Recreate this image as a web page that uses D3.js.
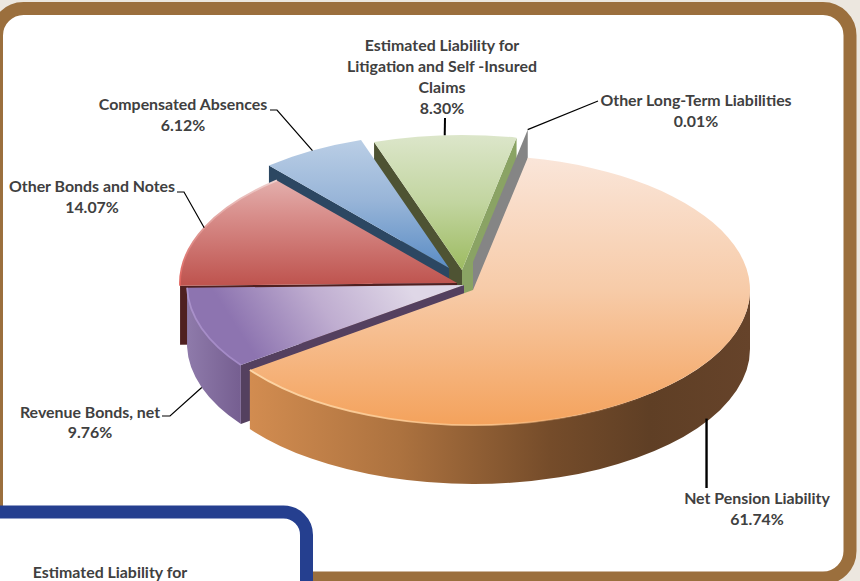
<!DOCTYPE html>
<html><head><meta charset="utf-8">
<script src="https://cdn.jsdelivr.net/npm/d3@7"></script>
<style>html,body{margin:0;padding:0;background:#ece7df;overflow:hidden}svg{display:block}
text{font-family:Lato,"Open Sans",sans-serif;font-weight:700;font-size:15.9px;fill:#404040;text-anchor:middle}</style>
</head><body><div id="c"></div>
<script>
// Data
const categories = ["Net Pension Liability","Revenue Bonds, net","Other Bonds and Notes","Compensated Absences","Estimated Liability for Litigation and Self -Insured Claims","Other Long-Term Liabilities"];
const values = [61.74,9.76,14.07,6.12,8.30,0.01];
const valueLabels = ["61.74%","9.76%","14.07%","6.12%","8.30%","0.01%"];

// Layout
const W=860,H=581,RX=277,RY=135,DEPTH=59,ROT=11.4*Math.PI/180;
const centres=[[473,290],[464,285],[457,283],[449,268],[462,270],[473,262]];
const labelLines=[["Net Pension Liability"],["Revenue Bonds, net"],["Other Bonds and Notes"],["Compensated Absences"],["Estimated Liability for","Litigation and Self -Insured","Claims"],["Other Long-Term Liabilities"]];
const labelPos=[[757,504],[90,418],[92,192],[183,110],[442,51],[696,106]];
const lineHeights=[21,20,21,21,21,21];
const elbows=[null,[[170,416],[162,416]],[[184,192],[177,192]],[[277,110],[270,110]],[[445,118]],[[598,101]]];
const leaderWidths=[2.4,1.2,1.2,1.2,2,1.2];
const leaderDepth=[1,1,0,0,0,0];
const palette=[
 {top:["#fae6da","#f7cba8","#f4a25c"],cut:"#5e3f24",rim:null},
 {top:["#dfd7e7","#bfadd0","#8d74b0"],cut:"#54405f",rim:"#7f6a9c"},
 {top:["#eecdcb","#d88e8b","#bf5550"],cut:"#4f2020",rim:"#4f2020"},
 {top:["#bed1e7","#98b5d8","#5b8dc5"],cut:"#2c4762",rim:"#3d566d"},
 {top:["#dce6ca","#c2d5a0","#9dbb61"],cut:"#4e5333",rim:"#7f9458"},
 {top:["#888","#888","#888"],cut:"#838383",rim:"#838383"}
];
const endFace=["#5e3f24","#54405f","#4f2020","#2c4762","#8aa364","#858585"];

const svg=d3.select("#c").append("svg").attr("width",W).attr("height",H);
const defs=svg.append("defs");

// Frame
svg.append("rect").attr("x",-3.5).attr("y",8.5).attr("width",853.5).attr("height",569.5).attr("rx",27)
  .attr("fill","#fff").attr("stroke","#9b6f3d").attr("stroke-width",13);

const arcs=d3.pie().sort(null).startAngle(ROT).endAngle(ROT+2*Math.PI)(values);
const ptOf=(i,a,d=0)=>[centres[i][0]+RX*Math.sin(a),centres[i][1]-RY*Math.cos(a)+d];

// Gradients
function linGrad(id,x1,y1,x2,y2,stops){
  const g=defs.append("linearGradient").attr("id",id).attr("gradientUnits","userSpaceOnUse")
    .attr("x1",x1).attr("y1",y1).attr("x2",x2).attr("y2",y2);
  stops.forEach(s=>g.append("stop").attr("offset",s[0]).attr("stop-color",s[1]).attr("stop-opacity",s[2]===undefined?1:s[2]));
}
palette.forEach((p,i)=>{
  const [cx,cy]=centres[i], st=p.top.map((c,k)=>[k/2,c]);
  if(i===1) linGrad("top1",cx-60,cy-5,cx-200,cy+85,st);
  else if(i===0) linGrad("top0",0,cy-RY,0,cy+RY,st);
  else linGrad("top"+i,0,cy-RY,0,cy,st);
});
linGrad("rim0",250,0,750,0,[[0,"#d28c50"],[.3,"#ac723f"],[.6,"#754c2a"],[.8,"#5f3f25"],[1,"#66432a"]]);
linGrad("rim1",186,0,242,0,[[0,"#8f7bab"],[1,"#755e90"]]);
linGrad("hi0",250,0,650,0,[[0,"#fdd6a6",1],[.6,"#fcc48a",.8],[1,"#f6a765",0]]);
linGrad("hi1",0,290,0,365,[[0,"#ab93cb"],[1,"#a389c6"]]);
linGrad("hi2",0,180,0,285,[[0,"#efd0ce"],[.5,"#df9692"],[1,"#e0605a"]]);

const face=(i,a)=>{const p=ptOf(i,a),c=centres[i];
  return d3.line()([c,p,[p[0],p[1]+DEPTH],[c[0],c[1]+DEPTH]])+"Z";};
const rimPath=(i,lo,hi)=>{const a=ptOf(i,lo),b=ptOf(i,hi),a2=ptOf(i,lo,DEPTH),b2=ptOf(i,hi,DEPTH),l=hi-lo>Math.PI?1:0;
  return `M${a}A${RX},${RY} 0 ${l} 1 ${b}L${b2}A${RX},${RY} 0 ${l} 0 ${a2}Z`;};
const edgePath=(i,lo,hi)=>{const a=ptOf(i,lo),b=ptOf(i,hi),l=hi-lo>Math.PI?1:0;
  return `M${a}A${RX},${RY} 0 ${l} 1 ${b}`;};
const wedgePath=(i,lo,hi)=>`M${centres[i]}L${edgePath(i,lo,hi).slice(1)}Z`;

// Draw back to front
[4,3,5,2,1,0].forEach(i=>{
  const d=arcs[i],a0=d.startAngle,a1=d.endAngle,g=svg.append("g");
  if(Math.sin(a0)<0) g.append("path").attr("d",face(i,a0)).attr("fill",palette[i].cut);
  if(Math.sin(a1)>0) g.append("path").attr("d",face(i,a1)).attr("fill",endFace[i]);
  const lo=Math.max(a0,Math.PI/2),hi=Math.min(a1,1.5*Math.PI);
  if(hi>lo) g.append("path").attr("d",rimPath(i,lo,hi))
    .attr("fill",i===0?"url(#rim0)":i===1?"url(#rim1)":palette[i].rim);
  if(i===5) return;
  g.append("path").attr("d",wedgePath(i,a0,a1)).attr("fill",`url(#top${i})`);
  if(i<3) g.append("path").attr("d",edgePath(i,i===0?lo:a0,a1)).attr("fill","none")
    .attr("stroke",`url(#hi${i})`).attr("stroke-width",1.8);
});

// Leaders
arcs.forEach((d,i)=>{
  const mid=(d.startAngle+d.endAngle)/2;
  const pts=[ptOf(i,mid,leaderDepth[i]*DEPTH)];
  if(i===0) pts[0]=[pts[0][0],pts[0][1]-3],pts.push([pts[0][0],488]);
  else pts.push(...elbows[i]);
  svg.append("path").attr("d",d3.line()(pts)).attr("fill","none").attr("stroke","#000").attr("stroke-width",leaderWidths[i]);
});

// Labels
categories.forEach((c,i)=>{
  const t=svg.append("text").attr("transform",`translate(${labelPos[i]})`);
  labelLines[i].concat(valueLabels[i]).forEach((s,k)=>t.append("tspan").attr("x",0).attr("y",k*lineHeights[i]).text(s));
});

// Overlapping blue panel
svg.append("rect").attr("x",-30).attr("y",512).attr("width",336.5).attr("height",120).attr("rx",23)
  .attr("fill","#fff").attr("stroke","#253f8f").attr("stroke-width",13);
svg.append("text").attr("x",110).attr("y",578).text("Estimated Liability for");
</script></body></html>
